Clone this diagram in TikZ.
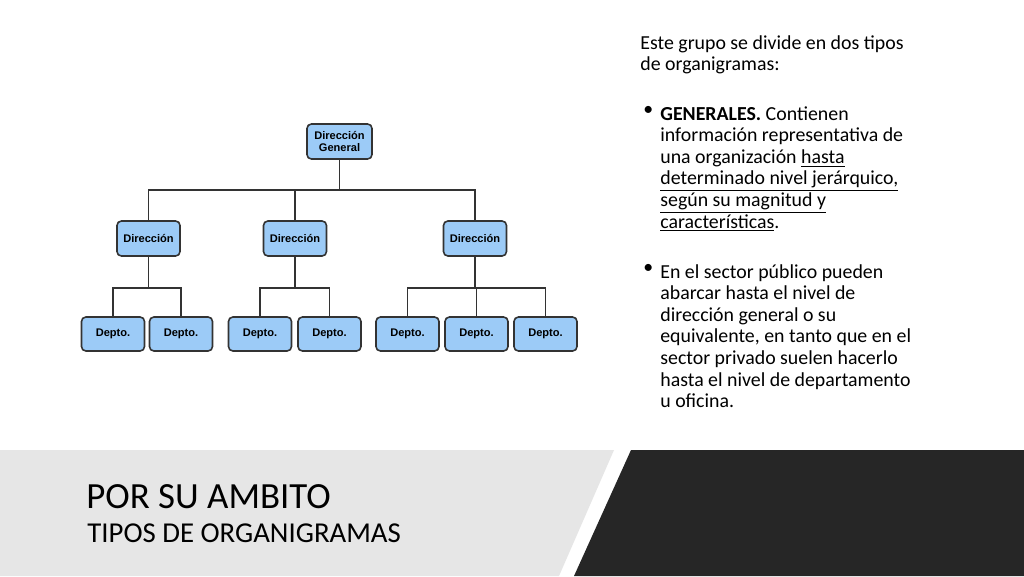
\documentclass[tikz,border=0pt]{standalone}
\usepackage{fontspec}
\setmainfont{Carlito}
\newfontfamily\boxfont{Liberation Sans}
\begin{document}
\begin{tikzpicture}[x=0.02cm,y=-0.02cm,
  org/.style={draw=black!80,line width=0.9pt,fill=blue!25!cyan!30!white,fill=orgblue,rounded corners=2.5pt,font=\boxfont\bfseries\fontsize{6.3pt}{7pt}\selectfont,align=center,inner sep=0pt},
  dg/.style={org,minimum width=65*0.02cm,minimum height=35*0.02cm},
  dir/.style={org,minimum width=63*0.02cm,minimum height=35*0.02cm},
  dep/.style={org,minimum width=63*0.02cm,minimum height=34*0.02cm},
  link/.style={draw=black!80,line width=0.8pt},
  para/.style={anchor=north west,inner sep=0pt,align=left,font=\fontsize{11.3pt}{12.3pt}\selectfont}]
\definecolor{orgblue}{HTML}{9CCBF7}
\definecolor{bandgray}{HTML}{E6E6E6}
\definecolor{banddark}{HTML}{262626}
\useasboundingbox (0,0) rectangle (1024,576);
\fill[white] (0,0) rectangle (1024,576);
% band
\fill[bandgray] (0,450) -- (614,450) -- (559,576) -- (0,576) -- cycle;
\fill[banddark] (631,450) -- (1024,450) -- (1024,576) -- (574,576) -- cycle;
\node[anchor=base west,inner sep=0pt,font=\fontsize{21pt}{24pt}\selectfont] (t1) at (86,508) {POR SU AMBITO};
\node[anchor=base west,inner sep=0pt,font=\fontsize{16.4pt}{18pt}\selectfont] (t2) at (87,542) {TIPOS DE ORGANIGRAMAS};
% org chart
\node[dg] (g) at (339.5,141.5) {Dirección\\General};
\node[dir] (d1) at (148.5,238.5) {Dirección};
\node[dir] (d2) at (295,238.5) {Dirección};
\node[dir] (d3) at (475,238.5) {Dirección};
\node[dep] (p1) at (113,334) {Depto.};
\node[dep] (p2) at (181,334) {Depto.};
\node[dep] (p3) at (260,334) {Depto.};
\node[dep] (p4) at (329.5,334) {Depto.};
\node[dep] (p5) at (407.5,334) {Depto.};
\node[dep] (p6) at (476.5,334) {Depto.};
\node[dep] (p7) at (545.5,334) {Depto.};
\coordinate (h0) at (339.5,190);
\coordinate (h1) at (148.5,288);
\coordinate (h2) at (295,288);
\coordinate (h3) at (475,288);
\draw[link] (g.south) -- (h0);
\draw[link] (d1.north) |- (h0) -| (d3.north);
\draw[link] (d2.north) -- (d2.north |- h0);
\draw[link] (d1.south) -- (h1);
\draw[link] (p1.north) |- (h1) -| (p2.north);
\draw[link] (d2.south) -- (h2);
\draw[link] (p3.north) |- (h2) -| (p4.north);
\draw[link] (d3.south) -- (h3);
\draw[link] (p5.north) |- (h3) -| (p7.north);
\draw[link] (p6.north) -- (p6.north |- h3);
% text
\node[para] (x1) at (640,35) {Este grupo se divide en dos tipos\\de organigramas:};
\node[para] (x2) at (660,106) {\textbf{GENERALES.} Contienen\\información representativa de\\una organización \underline{hasta}\\\underline{determinado nivel jerárquico,}\\\underline{según su magnitud y}\\\underline{características}.};
\node[para] (x3) at (660,264) {En el sector público pueden\\abarcar hasta el nivel de\\dirección general o su\\equivalente, en tanto que en el\\sector privado suelen hacerlo\\hasta el nivel de departamento\\u oficina.};
\node[anchor=north west,inner sep=0pt,font=\fontsize{11.3pt}{12.3pt}\selectfont] (b1) at (643,106) {•};
\node[anchor=north west,inner sep=0pt,font=\fontsize{11.3pt}{12.3pt}\selectfont] (b2) at (643,264) {•};
\end{tikzpicture}
\end{document}
